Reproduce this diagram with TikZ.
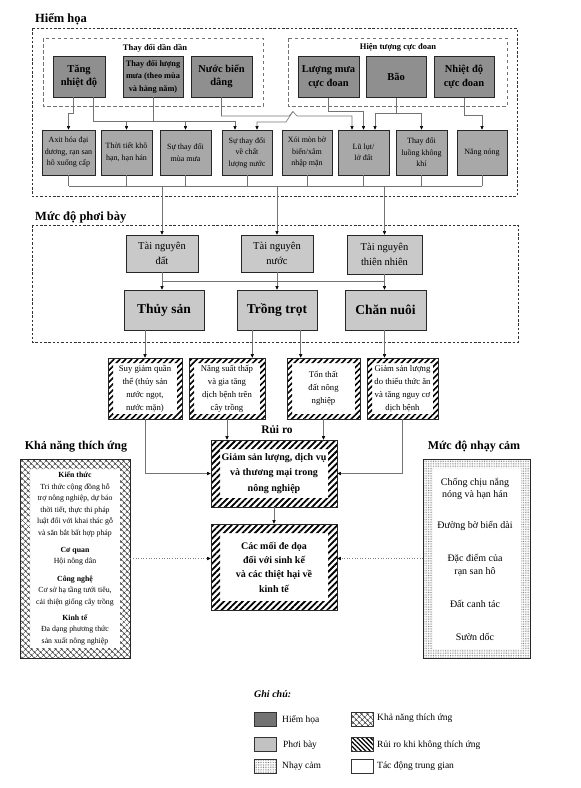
\documentclass[tikz,border=0pt]{standalone}
\usepackage{fontspec}
\setmainfont{Liberation Serif}
\usetikzlibrary{arrows.meta,patterns.meta,calc}
\definecolor{hazc}{gray}{0.56}
\definecolor{impc}{gray}{0.66}
\definecolor{expc}{gray}{0.79}
\definecolor{lghaz}{gray}{0.45}
\definecolor{lgexp}{gray}{0.76}
\tikzset{
  box/.style={draw=black!85, line width=0.7pt, align=center, inner sep=1pt},
  haz/.style={box, fill=hazc, minimum height=41, font=\fontsize{10.5}{13.5}\selectfont\bfseries},
  imp/.style={box, fill=impc, minimum height=45, font=\fontsize{8}{11.5}\selectfont},
  expo/.style={box, fill=expc, minimum height=37, font=\fontsize{10.5}{15}\selectfont},
  sect/.style={box, fill=expc, minimum height=40, font=\fontsize{13.5}{15}\selectfont\bfseries},
  ln/.style={draw=black!55, line width=0.6pt},
  arr/.style={ln, -{Triangle[length=3.6pt,width=3.2pt,color=black]}},
  dotarr/.style={draw=black!50, line width=0.6pt, dotted, -{Triangle[length=3.6pt,width=3.2pt,color=black]}},
  outerdash/.style={draw=black!80, line width=0.9pt, dash pattern=on 2.5pt off 1.8pt},
  innerdash/.style={draw=black!55, line width=0.8pt, dash pattern=on 3.5pt off 2.5pt},
  hframe/.style={draw=black!85, line width=0.6pt, fill=white, align=center, inner sep=1pt},
  hatchband/.style n args={3}{path picture={\fill[pattern={#2}, pattern color=#3, even odd rule]
     (path picture bounding box.south west) rectangle (path picture bounding box.north east)
     ($(path picture bounding box.south west)+(#1,-#1)$) rectangle ($(path picture bounding box.north east)+(-#1,#1)$);}},
  title/.style={font=\fontsize{12.5}{14}\selectfont\bfseries, inner sep=0},
  lgbox/.style={draw=black!80, line width=0.6pt, minimum width=22, minimum height=14, inner sep=0},
  lgtext/.style={font=\fontsize{9.5}{11}\selectfont, anchor=west, inner sep=0},
}
\begin{document}
\begin{tikzpicture}[x=1pt,y=-1pt]
\useasboundingbox (0,0) rectangle (581,788);
% ---------------- Hiem hoa ----------------
\node[title, anchor=base west] (thh) at (35,22) {Hiểm họa};
\draw[outerdash] (32,28) rectangle (517,196);
\draw[innerdash] (43,38) rectangle (263,106);
\draw[innerdash] (288,38) rectangle (507,106);
\node[font=\fontsize{8.5}{10}\selectfont\bfseries, inner sep=0] (ldd) at (155,48) {Thay đổi dần dần};
\node[font=\fontsize{8.5}{10}\selectfont\bfseries, inner sep=0] (lcd) at (398,47) {Hiện tượng cực đoan};

\node[haz, minimum width=52] (tnd) at (79,76.5) {Tăng\\nhiệt độ};
\node[haz, minimum width=60, font=\fontsize{8.3}{12.5}\selectfont\bfseries] (tdlm) at (153,76.5) {Thay đổi lượng\\mưa (theo mùa\\và hàng năm)};
\node[haz, minimum width=61] (nbd) at (221.5,76.5) {Nước biển\\dâng};
\node[haz, minimum width=61] (lmcd) at (328.5,77) {Lượng mưa\\cực đoan};
\node[haz, minimum width=60] (bao) at (396,77) {Bão};
\node[haz, minimum width=60] (ndcd) at (464,77) {Nhiệt độ\\cực đoan};

\node[imp, minimum width=53] (axit) at (68.5,152.5) {Axit hóa đại\\dương, rạn san\\hô xuống cấp};
\node[imp, minimum width=51] (ttk) at (126.5,152.5) {Thời tiết khô\\hạn, hạn hán};
\node[imp, minimum width=51] (stdmm) at (185.5,152.5) {Sự thay đổi\\mùa mưa};
\node[imp, minimum width=50] (stdcl) at (247,152.5) {Sự thay đổi\\về chất\\lượng nước};
\node[imp, minimum width=50] (xmbb) at (307,152.5) {Xói mòn bờ\\biển/xâm\\nhập mặn};
\node[imp, minimum width=51] (llld) at (363.5,152.5) {Lũ lụt/\\lở đất};
\node[imp, minimum width=51] (tdlk) at (421.5,152.5) {Thay đổi\\luồng không\\khí};
\node[imp, minimum width=50] (nn) at (482,152.5) {Nắng nóng};

% hazard connectors
\coordinate (busA) at (0,121);
\coordinate (busL) at (0,111);
\coordinate (busN) at (0,116);
\coordinate (busBao) at (0,113);
\coordinate (busE) at (0,115);
\coordinate (pk0) at (289,116);
\coordinate (pk) at (293,111.5);
\coordinate (pk1) at (297,116);
\coordinate (lx2) at (286,122);
\draw[arr] ($(tnd.south)+(-6,0)$) -- ++(0,16) -| (axit.north);
\draw[ln] ($(tnd.south)+(14,0)$) |- ($(stdcl.north |- busA)+(-12,0)$);
\draw[ln] (tdlm.south) -- (tdlm.south |- busA);
\draw[arr] (ttk.north |- busA) -- (ttk.north);
\draw[arr] (stdmm.north |- busA) -- (stdmm.north);
\draw[arr] ($(stdcl.north |- busA)+(-12,0)$) -- ($(stdcl.north)+(-12,0)$);
\draw[arr] (nbd.south) |- (pk0) -- (pk) -- (pk1) -- ($(llld.north |- busN)+(-11.5,0)$) -- ($(llld.north)+(-11.5,0)$);
\draw[arr] (pk) -- (lx2) -| ($(stdcl.north)+(10,0)$);
\draw[arr] (lmcd.south) -- (lmcd.south |- busL) -| (llld.north);
\draw[ln] (bao.south) -- (bao.south |- busBao);
\draw[arr] (bao.south |- busBao) -- ($(llld.north |- busBao)+(11.5,0)$) -- ($(llld.north)+(11.5,0)$);
\draw[arr] (bao.south |- busBao) -| (tdlk.north);
\draw[arr] (ndcd.south) -- (ndcd.south |- busE) -| (nn.north);

% ---------------- Phoi bay ----------------
\node[title, anchor=base west] (tpb) at (35,220) {Mức độ phơi bày};
\draw[outerdash] (32,225) rectangle (518,342);
\node[expo, minimum width=72] (tnd2) at (162,253.5) {Tài nguyên\\đất};
\node[expo, minimum width=72] (tnn) at (277,253.5) {Tài nguyên\\nước};
\node[expo, minimum width=75, minimum height=39] (tntn) at (384.5,254.5) {Tài nguyên\\thiên nhiên};
\node[sect, minimum width=80] (ts) at (164,310) {Thủy sản};
\node[sect, minimum width=80] (tt) at (277,310) {Trồng trọt};
\node[sect, minimum width=81] (cn) at (385.5,310) {Chăn nuôi};

\coordinate (busB) at (0,186);
\foreach \n in {axit,ttk,stdmm,stdcl,xmbb,llld,tdlk,nn}{\draw[ln] (\n.south) -- (\n.south |- busB);}
\draw[ln] (axit.south |- busB) -- (nn.south |- busB);
\foreach \n in {tnd2,tnn,tntn}{\draw[arr] (\n.north |- busB) -- (\n.north);}

\coordinate (busC) at (0,281);
\foreach \n in {tnd2,tnn,tntn}{\draw[ln] (\n.south) -- (\n.south |- busC);
  \draw[arr] (\n.south |- busC) -- (\n.south |- ts.north);}
\draw[ln] (tnd2.south |- busC) -- (tntn.south |- busC);

% ---------------- Rui ro ----------------
\node[hframe, hatchband={5}{Lines[angle=45,distance=4.2pt,line width=1.6pt]}{black}, minimum width=74, minimum height=61, font=\fontsize{8.7}{13}\selectfont] (sg) at (145,388.5) {Suy giảm quần\\thể (thủy sản\\nước ngọt,\\nước mặn)};
\node[hframe, hatchband={5}{Lines[angle=45,distance=4.2pt,line width=1.6pt]}{black}, minimum width=76, minimum height=61, font=\fontsize{8.7}{13}\selectfont] (ns) at (227,388.5) {Năng suất thấp\\và gia tăng\\dịch bệnh trên\\cây trồng};
\node[hframe, hatchband={5}{Lines[angle=45,distance=4.2pt,line width=1.6pt]}{black}, minimum width=73, minimum height=61, font=\fontsize{8.7}{13}\selectfont] (tt2) at (323.5,388.5) {Tổn thất\\đất nông\\nghiệp};
\node[hframe, hatchband={5}{Lines[angle=45,distance=4.2pt,line width=1.6pt]}{black}, minimum width=71, minimum height=61, font=\fontsize{8.7}{13}\selectfont] (gsl) at (402.5,388.5) {Giảm sản lượng\\do thiếu thức ăn\\và tăng nguy cơ\\dịch bệnh};

\draw[arr] (sg.north |- ts.south) -- (sg.north);
\draw[arr] ($(tt.south -| ns.east)+(-13,0)$) -- ($(ns.north east)+(-13,0)$);
\draw[arr] ($(tt.south -| tt2.west)+(14,0)$) -- ($(tt2.north west)+(14,0)$);
\draw[arr] (cn.south -| tntn.south) -- (gsl.north -| tntn.south);

\node[font=\fontsize{11.5}{13}\selectfont\bfseries, inner sep=0] (trr) at (277,430) {Rủi ro};
\node[hframe, hatchband={9}{Lines[angle=45,distance=4.4pt,line width=1.8pt]}{black}, minimum width=126, minimum height=67, font=\fontsize{10}{15.5}\selectfont\bfseries] (rr1) at (274,473.5) {Giảm sản lượng, dịch vụ\\và thương mại trong\\nông nghiệp};
\node[hframe, hatchband={9}{Lines[angle=45,distance=4.4pt,line width=1.8pt]}{black}, minimum width=126, minimum height=86, font=\fontsize{10}{14.3}\selectfont\bfseries] (rr2) at (274,567) {Các mối đe dọa\\đối với sinh kế\\và các thiệt hại về\\kinh tế};

\draw[arr] (sg.south) |- (rr1.west);
\draw[arr] (gsl.south) |- (rr1.east);
\draw[arr] (ns.south) -- (ns.south |- rr1.north);
\draw[arr] (tt2.south) -- (tt2.south |- rr1.north);
\draw[arr] (rr1.south) -- (rr2.north);

% ---------------- Kha nang thich ung ----------------
\node[title, font=\fontsize{12}{14}\selectfont\bfseries] (tkn) at (76,447) {Khả năng thích ứng};
\node[hframe, hatchband={10}{Hatch[angle=45,distance=4pt,line width=0.6pt]}{black!80}, minimum width=110, minimum height=199] (ad) at (75,558.5) {};
\node[font=\fontsize{7.8}{11.5}\selectfont, align=center, inner sep=0, anchor=north] (adtxt) at (75,472) {\textbf{Kiến thức}\\Tri thức cộng đồng hỗ\\trợ nông nghiệp, dự báo\\thời tiết, thực thi pháp\\luật đối với khai thác gỗ\\và săn bắt bất hợp pháp\\[5.5pt]\textbf{Cơ quan}\\Hội nông dân\\[6pt]\textbf{Công nghệ}\\Cơ sở hạ tầng tưới tiêu,\\cải thiện giống cây trồng\\[4.5pt]\textbf{Kinh tế}\\Đa dạng phương thức\\sản xuất nông nghiệp};

% ---------------- Muc do nhay cam ----------------
\node[title, font=\fontsize{12}{14}\selectfont\bfseries] (tnc) at (474,447) {Mức độ nhạy cảm};
\node[hframe, hatchband={9}{Dots[distance=1.7pt,radius=0.42pt]}{black!60}, minimum width=107, minimum height=199] (sen) at (476.5,558.5) {};
\node[font=\fontsize{10}{12.5}\selectfont, align=center, inner sep=0, anchor=north] (sentxt) at (475,478) {Chống chịu nắng\\nóng và hạn hán\\[18.5pt]Đường bờ biển dài\\[20.5pt]Đặc điểm của\\rạn san hô\\[20.5pt]Đất canh tác\\[20.5pt]Sườn dốc};

\draw[dotarr] (ad.east) -- (ad.east -| rr2.west);
\draw[dotarr] (sen.west) -- (sen.west -| rr2.east);

% ---------------- Legend ----------------
\node[font=\fontsize{10}{12}\selectfont\bfseries\itshape, anchor=base west, inner sep=0] (gc) at (254,697) {Ghi chú:};
\node[lgbox, fill=lghaz] (lg1) at (265,719.5) {};
\node[lgtext] (lt1) at (282,720) {Hiểm họa};
\node[lgbox, fill=lgexp] (lg2) at (265,744.5) {};
\node[lgtext] (lt2) at (283,745) {Phơi bày};
\node[lgbox, pattern={Dots[distance=1.7pt,radius=0.42pt]}, pattern color=black!60] (lg3) at (265,766) {};
\node[lgtext] (lt3) at (282,766) {Nhạy cảm};
\node[lgbox, pattern={Hatch[angle=45,distance=4pt,line width=0.6pt]}, pattern color=black!80] (lg4) at (362.5,719.5) {};
\node[lgtext] (lt4) at (377,718.5) {Khả năng thích ứng};
\node[lgbox, pattern={Lines[angle=-45,distance=3.2pt,line width=1.3pt]}, pattern color=black] (lg5) at (362.5,744.5) {};
\node[lgtext] (lt5) at (377,745) {Rủi ro khi không thích ứng};
\node[lgbox, fill=white] (lg6) at (362.5,766) {};
\node[lgtext] (lt6) at (377,766) {Tác động trung gian};
\end{tikzpicture}
\end{document}
